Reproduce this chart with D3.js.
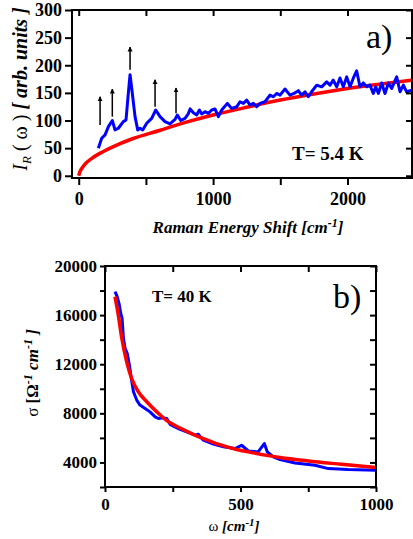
<!DOCTYPE html>
<html><head><meta charset="utf-8">
<script src="https://cdn.jsdelivr.net/npm/d3@7"></script>
<style>body{margin:0;background:#fff}svg{display:block}</style>
</head><body>
<svg id="c" width="413" height="539" font-family="'Liberation Serif', 'DejaVu Serif', 'Times New Roman', serif"></svg>
<script>
// ---------- Panel a) data ----------
const ramanShift = [146,171,196,221,250,270,295,332,352,369,382,399,419,439,456,476,506,543,573,605,642,679,717,734,759,791,815,829,853,878,898,915,940,964,990,1014,1039,1064,1106,1138,1176,1200,1225,1250,1275,1299,1324,1349,1386,1423,1448,1473,1498,1535,1572,1602,1634,1659,1684,1708,1733,1771,1808,1845,1870,1894,1920,1944,1969,1994,2019,2044,2068,2093,2118,2143,2167,2192,2210,2230,2254,2279,2304,2329,2366,2391,2416,2440,2480];
const ramanIntensity = [50,68,74,89,100,83,86,98,101,149,183,149,107,83,86,83,95,104,119,107,98,94,102,110,100,104,112,121,114,110,119,112,116,113,119,121,107,119,131,122,125,134,131,137,128,131,125,131,134,146,143,149,146,157,146,149,154,146,152,143,152,164,161,170,164,173,161,177,161,179,161,177,190,161,168,161,164,149,161,149,168,149,168,158,179,152,164,152,155];
const fitAShift = [0,10,25,50,100,160,250,400,600,800,1000,1250,1500,1750,2000,2250,2480];
const fitAValue = [0,8,14,22,32,41,52,67,82,97,110,124,137,148,158,166,173];
const arrowShift = [159,250,382,568,724];
const arrowFrom = [92,107,192,125,113];
const arrowTo = [143,157,233,174,159];
const aYTicks = [0,50,100,150,200,250,300];
const aXTicks = [0,500,1000,1500,2000];
const aXLabels = [0,1000,2000];

// ---------- Panel b) data ----------
const omega = [37,45,53,58,63,68,74,82,90,98,105,117,129,148,166,185,197,215,228,240,258,277,301,332,344,363,400,437,480,504,529,565,588,599,621,646,701,775,824,897,1000];
const sigma = [17918,17510,16830,16150,15750,14110,13300,12890,11930,10710,9760,9080,8670,8400,8120,7710,7580,7630,7580,7100,6900,6700,6490,6220,6300,5810,5490,5270,5130,5400,4940,4860,5540,4860,4450,4240,3960,3770,3500,3420,3360];
const fitBOmega = [37,49,62,80,98,123,154,191,228,277,330,363,424,486,547,646,750,873,1000];
const fitBSigma = [17510,16020,14110,12200,10850,9760,8940,8120,7400,6800,6250,5950,5450,5050,4780,4400,4120,3850,3580];
const bYTicks = [2000,4000,6000,8000,10000,12000,14000,16000,18000,20000];
const bYLabels = [4000,8000,12000,16000,20000];
const bXTicks = [0,250,500,750,1000];
const bXLabels = [0,500,1000];

const FONT = "'Liberation Serif', 'DejaVu Serif', 'Times New Roman', serif";
const svg = d3.select("#c");
const BLUE = "#0000ff", RED = "#ff0000";

function frameAxes(g, x, y, xt, xl, yt, yl, fs, tl, xpad) {
  const [x0, x1] = x.range(), [y0, y1] = y.range();
  const fmt = labs => d => labs.includes(d) ? d : "";
  g.append("g").attr("transform", `translate(${x0},0)`)
    .call(d3.axisLeft(y).tickValues(yt).tickSize(tl).tickPadding(3).tickSizeOuter(0).tickFormat(fmt(yl)));
  g.append("g").attr("transform", `translate(0,${y0})`)
    .call(d3.axisBottom(x).tickValues(xt).tickSize(tl).tickPadding(xpad).tickSizeOuter(0).tickFormat(fmt(xl)));
  g.append("g").attr("transform", `translate(0,${y1})`)
    .call(d3.axisTop(x).tickValues(xt).tickSize(-6).tickSizeOuter(0).tickFormat(""));
  g.append("g").attr("transform", `translate(${x1},0)`)
    .call(d3.axisRight(y).tickValues(yt).tickSize(-6).tickSizeOuter(0).tickFormat(""));
  g.selectAll(".domain").remove();
  g.selectAll("g").attr("font-family", FONT);
  g.selectAll(".tick line").attr("stroke", "#000").attr("stroke-width", 2);
  g.selectAll(".tick text").attr("font-size", fs).attr("font-weight", "bold").attr("fill", "#000")
    .attr("font-family", FONT);
  g.append("rect").attr("x", x0).attr("y", y1).attr("width", x1 - x0).attr("height", y0 - y1)
    .attr("fill", "none").attr("stroke", "#000").attr("stroke-width", 2);
}

// ---------- Panel a ----------
const xa = d3.scaleLinear().domain([-50, 2480]).range([72, 412]);
const ya = d3.scaleLinear().domain([-4, 300]).range([178, 10]);
const ga = svg.append("g");
ga.append("path").datum(d3.zip(fitAShift, fitAValue))
  .attr("d", d3.line().x(d => xa(d[0])).y(d => ya(d[1])).curve(d3.curveMonotoneX))
  .attr("fill", "none").attr("stroke", RED).attr("stroke-width", 3.5);
ga.append("path").datum(d3.zip(ramanShift, ramanIntensity))
  .attr("d", d3.line().x(d => xa(d[0])).y(d => ya(d[1]))).attr("fill", "none").attr("stroke", BLUE)
  .attr("stroke-width", 3).attr("stroke-linejoin", "round");
svg.append("defs").append("marker").attr("id", "ah").attr("viewBox", "0 0 10 10").attr("refX", 9).attr("refY", 5)
  .attr("markerWidth", 5).attr("markerHeight", 6).attr("markerUnits", "userSpaceOnUse").attr("orient", "auto")
  .append("path").attr("d", "M0,0 L10,5 L0,10 z").attr("fill", "#000");
ga.selectAll("line.arr").data(arrowShift).join("line").attr("class", "arr")
  .attr("x1", d => xa(d)).attr("x2", d => xa(d))
  .attr("y1", (d, i) => ya(arrowFrom[i])).attr("y2", (d, i) => ya(arrowTo[i]))
  .attr("stroke", "#000").attr("stroke-width", 1.5).attr("marker-end", "url(#ah)");
frameAxes(ga, xa, ya, aXTicks, aXLabels, aYTicks, aYTicks, 18, 7, 7);
ga.append("text").attr("x", 366).attr("y", 48).attr("font-size", 34).text("a)");
ga.append("text").attr("x", 292).attr("y", 160).attr("font-size", 19).attr("font-weight", "bold").text("T= 5.4 K");
const xta = ga.append("text").attr("x", 248).attr("y", 233).attr("text-anchor", "middle")
  .attr("font-size", 17).attr("font-weight", "bold").attr("font-style", "italic");
xta.append("tspan").text("Raman Energy Shift [cm");
xta.append("tspan").attr("font-size", 12).attr("dy", -6).text("-1");
xta.append("tspan").attr("dy", 6).text("]");
const yta = ga.append("text").attr("transform", "translate(27,89) rotate(-90)").attr("text-anchor", "middle").attr("font-size", 20);
yta.append("tspan").attr("font-style", "italic").text("I");
yta.append("tspan").attr("font-style", "italic").attr("font-size", 13).attr("dy", 4).text("R");
yta.append("tspan").attr("dy", -4).text(" ( ω )  ");
yta.append("tspan").attr("font-style", "italic").attr("font-weight", "bold").text("[ arb. units ]");

// ---------- Panel b ----------
const xb = d3.scaleLinear().domain([0, 1000]).range([105, 376]);
const yb = d3.scaleLinear().domain([2000, 20000]).range([487, 266]);
const gb = svg.append("g");
gb.append("path").datum(d3.zip(omega, sigma))
  .attr("d", d3.line().x(d => xb(d[0])).y(d => yb(d[1]))).attr("fill", "none").attr("stroke", BLUE)
  .attr("stroke-width", 3).attr("stroke-linejoin", "round");
gb.append("path").datum(d3.zip(fitBOmega, fitBSigma))
  .attr("d", d3.line().x(d => xb(d[0])).y(d => yb(d[1])).curve(d3.curveMonotoneX)).attr("fill", "none")
  .attr("stroke", RED).attr("stroke-width", 3.5);
frameAxes(gb, xb, yb, bXTicks, bXLabels, bYTicks, bYLabels, 17, 5, 6);
gb.append("text").attr("x", 333).attr("y", 308).attr("font-size", 34).text("b)");
gb.append("text").attr("x", 152).attr("y", 302).attr("font-size", 17).attr("font-weight", "bold").text("T= 40 K");
const xtb = gb.append("text").attr("x", 234).attr("y", 531).attr("text-anchor", "middle").attr("font-size", 15);
xtb.append("tspan").text("ω ");
xtb.append("tspan").attr("font-style", "italic").attr("font-weight", "bold").text("[cm");
xtb.append("tspan").attr("font-style", "italic").attr("font-weight", "bold").attr("font-size", 11).attr("dy", -5).text("-1");
xtb.append("tspan").attr("font-style", "italic").attr("font-weight", "bold").attr("dy", 5).text("]");
const ytb = gb.append("text").attr("transform", "translate(38,373) rotate(-90)").attr("text-anchor", "middle").attr("font-size", 17).attr("font-weight", "bold");
ytb.append("tspan").attr("font-weight", "normal").text("σ ");
ytb.append("tspan").text("[Ω");
ytb.append("tspan").attr("font-style", "italic").attr("font-size", 12).attr("dy", -6).text("-1");
ytb.append("tspan").attr("font-style", "italic").attr("dy", 6).text(" cm");
ytb.append("tspan").attr("font-style", "italic").attr("font-size", 12).attr("dy", -6).text("-1");
ytb.append("tspan").attr("font-style", "italic").attr("dy", 6).text(" ]");
</script>
</body></html>
